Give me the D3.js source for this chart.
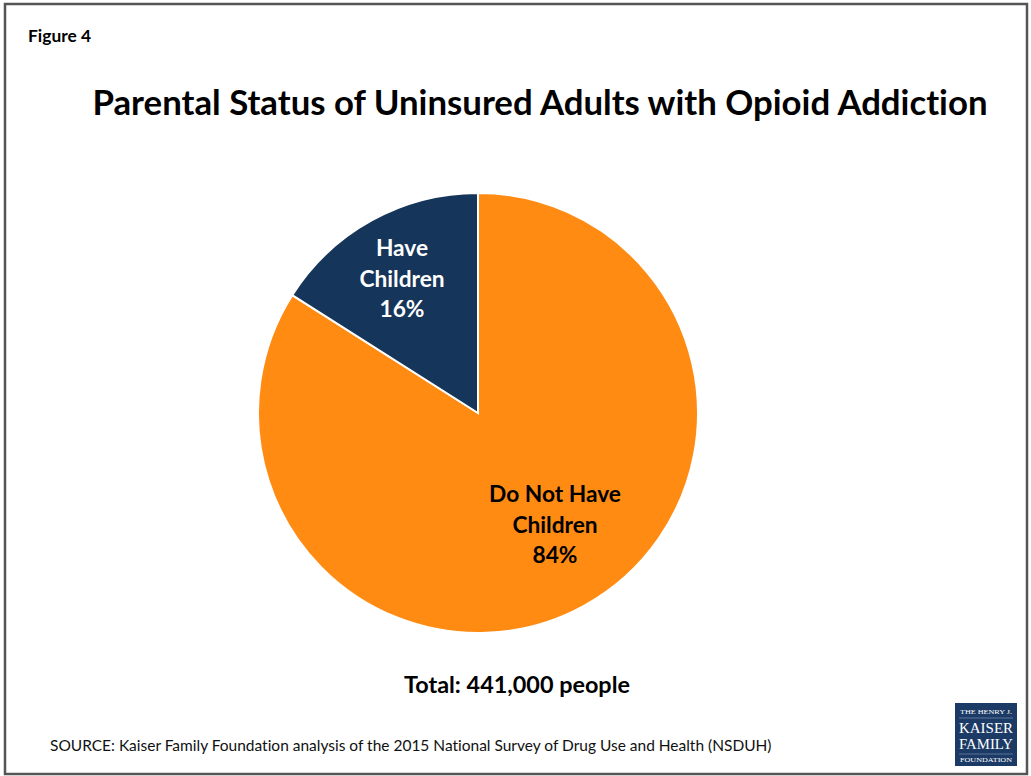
<!DOCTYPE html>
<html><head><meta charset="utf-8">
<script src="https://cdn.jsdelivr.net/npm/d3@7"></script>
<style>body{margin:0;background:#fff}svg{display:block}text{font-variant-ligatures:none}</style>
</head><body>
<svg id="c" width="1031" height="776"></svg>
<script>
const categories = ["Do Not Have Children", "Have Children"];
const labelLines = [["Do Not Have", "Children"], ["Have", "Children"]];
const values = [84, 16];
const colors = ["#FF8B13", "#15355A"];
const textColors = ["#000000", "#FFFFFF"];
const title = "Parental Status of Uninsured Adults with Opioid Addiction";
const figureLabel = "Figure 4";
const totalLabel = "Total: 441,000 people";
const sourceLabel = "SOURCE: Kaiser Family Foundation analysis of the 2015 National Survey of Drug Use and Health (NSDUH)";

const svg = d3.select("#c");
const FONT = "Lato, 'Open Sans', sans-serif";

svg.append("rect").attr("x",5).attr("y",4).attr("width",1022).attr("height",770)
  .attr("fill","#fff").attr("stroke","#555").attr("stroke-width",2.5);

function fitText(sel, target){
  const w = sel.node().getComputedTextLength();
  const fs = parseFloat(sel.attr("font-size"));
  sel.attr("font-size", fs*target/w);
}

const fig = svg.append("text").attr("x",28).attr("y",42).attr("font-family",FONT)
  .attr("font-weight","bold").attr("font-size",15).text(figureLabel);
fitText(fig,63);

const t = svg.append("text").attr("x",540).attr("y",115).attr("text-anchor","middle")
  .attr("font-family",FONT).attr("font-weight","bold").attr("font-size",30).text(title);
fitText(t,895);

const cx = 478, cy = 413, r = 220;
const pie = d3.pie().sort(null).value(d=>d);
const arcs = pie(values);
const arc = d3.arc().innerRadius(0).outerRadius(r);
const g = svg.append("g").attr("transform",`translate(${cx},${cy})`);
g.selectAll("path").data(arcs).join("path").attr("d",arc)
  .attr("fill",(d,i)=>colors[i]).attr("stroke","#fff").attr("stroke-width",2);

// labels
const labelPos = [[555-cx, 502-cy], [402-cx, 256-cy]];
const lines = svg.append("g").attr("transform",`translate(${cx},${cy})`);
let labelSize = 21;
arcs.forEach((a,i)=>{
  const pct = Math.round(values[i]/d3.sum(values)*100)+"%";
  const ls = labelLines[i].concat([pct]);
  const tx = lines.append("text").attr("text-anchor","middle").attr("font-family",FONT)
    .attr("font-weight","bold").attr("font-size",labelSize).attr("fill",textColors[i]);
  ls.forEach((l,k)=>{
    tx.append("tspan").attr("x",labelPos[i][0]).attr("y",labelPos[i][1]+k*30.5).text(l);
  });
});
const probe = lines.select("text tspan").node();
const pw = probe.getComputedTextLength();
lines.selectAll("text").attr("font-size", labelSize*132/pw);

const tot = svg.append("text").attr("x",517).attr("y",693).attr("text-anchor","middle")
  .attr("font-family",FONT).attr("font-weight","bold").attr("font-size",21).text(totalLabel);
fitText(tot,226);

const src = svg.append("text").attr("x",50).attr("y",751).attr("font-family",FONT)
  .attr("font-size",15).attr("fill","#111").text(sourceLabel);
fitText(src,722);

// logo
const lg = svg.append("g").attr("transform","translate(955,703)");
lg.append("rect").attr("width",62).attr("height",63).attr("fill","#1B3A66");
const serif = "'Liberation Serif','DejaVu Serif',serif";
lg.append("text").attr("x",31).attr("y",11).attr("text-anchor","middle").attr("font-family",serif)
  .attr("font-size",6.5).attr("fill","#fff").attr("textLength",52).attr("lengthAdjust","spacingAndGlyphs").text("THE HENRY J.");
lg.append("line").attr("x1",4).attr("x2",58).attr("y1",15).attr("y2",15).attr("stroke","#8aa0c0").attr("stroke-width",0.6);
lg.append("text").attr("x",31).attr("y",30).attr("text-anchor","middle").attr("font-family",serif)
  .attr("font-size",14).attr("fill","#fff").attr("textLength",54).attr("lengthAdjust","spacingAndGlyphs").text("KAISER");
lg.append("text").attr("x",31).attr("y",46).attr("text-anchor","middle").attr("font-family",serif)
  .attr("font-size",14).attr("fill","#fff").attr("textLength",54).attr("lengthAdjust","spacingAndGlyphs").text("FAMILY");
lg.append("line").attr("x1",4).attr("x2",58).attr("y1",51).attr("y2",51).attr("stroke","#8aa0c0").attr("stroke-width",0.6);
lg.append("text").attr("x",31).attr("y",59).attr("text-anchor","middle").attr("font-family",serif)
  .attr("font-size",5.5).attr("fill","#fff").attr("textLength",52).attr("lengthAdjust","spacingAndGlyphs").text("FOUNDATION");
</script>
</body></html>
